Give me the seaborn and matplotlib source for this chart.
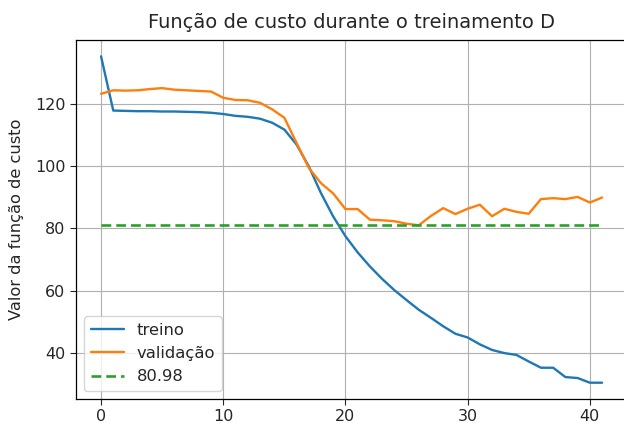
import numpy as np
import pandas as pd
import matplotlib
matplotlib.use("Agg")
import matplotlib.pyplot as plt
import seaborn as sns

epochs = list(range(42))
treino = [135.2, 117.8, 117.7, 117.6, 117.6, 117.5, 117.5, 117.4, 117.3, 117.1,
          116.7, 116.1, 115.8, 115.2, 113.9, 111.7, 106.9, 99.9, 91.3, 83.8,
          77.5, 72.3, 67.8, 63.8, 60.2, 57.0, 53.9, 51.3, 48.6, 46.2,
          45.0, 42.8, 41.0, 40.0, 39.4, 37.3, 35.3, 35.3, 32.3, 32.0,
          30.5, 30.5]
validacao = [123.2, 124.3, 124.2, 124.3, 124.7, 125.0, 124.5, 124.3, 124.1, 123.9,
             121.9, 121.2, 121.1, 120.3, 118.2, 115.5, 107.4, 99.4, 94.5, 91.2,
             86.2, 86.2, 82.8, 82.6, 82.3, 81.5, 81.0, 84.0, 86.5, 84.6,
             86.3, 87.6, 83.9, 86.3, 85.3, 84.7, 89.4, 89.7, 89.4, 90.1,
             88.3, 89.9]
referencia = 80.98

df = pd.DataFrame({"epoch": epochs, "treino": treino, "validação": validacao})

sns.set_style("ticks")
plt.rcParams["font.family"] = ["DejaVu Sans"]

fig = plt.figure(figsize=(6.24, 4.23), dpi=100)
ax = fig.add_axes([0.1218, 0.0567, 0.8832, 0.8487])

sns.lineplot(data=df, x="epoch", y="treino", ax=ax, color="#1f77b4", label="treino", linewidth=1.7)
sns.lineplot(data=df, x="epoch", y="validação", ax=ax, color="#ff7f0e", label="validação", linewidth=1.7)
sns.lineplot(x=epochs, y=[referencia] * len(epochs), ax=ax, color="#2ca02c",
             linestyle=(0, (3.7, 1.9)), label=f"{referencia}", linewidth=1.9)

ax.grid(True, color="#b0b0b0", linewidth=0.8)
ax.set_axisbelow(True)
ax.set_xlabel("")
ax.set_ylabel("Valor da função de custo", fontsize=11.7)
ax.yaxis.set_label_coords(-0.094, 0.5)
ax.set_title("Função de custo durante o treinamento D", fontsize=14, pad=8.6)
ax.tick_params(labelsize=11.5, direction="out", length=4)
ax.set_yticks([40, 60, 80, 100, 120])
ax.set_xticks([0, 10, 20, 30, 40])
for s in ax.spines.values():
    s.set_color("black")
    s.set_linewidth(0.9)
ax.legend(loc="lower left", fontsize=11.8, frameon=True)

fig.savefig("out.png", dpi=100)
